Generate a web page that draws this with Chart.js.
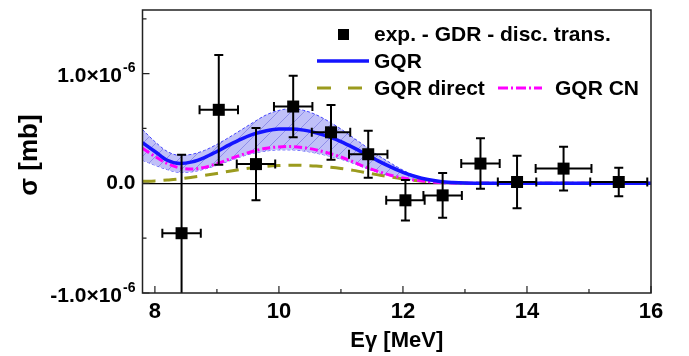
<!DOCTYPE html>
<html>
<head>
<meta charset="utf-8">
<script src="https://cdn.jsdelivr.net/npm/chart.js@4.4.0/dist/chart.umd.min.js"></script>
<style>
html, body { margin: 0; padding: 0; background: #fff; }
#wrap { width: 689px; height: 356px; }
</style>
</head>
<body>
<div id="wrap"><canvas id="sigmaChart"></canvas></div>
<script>
const UNIT = 1e-6;
const FONT = "'Liberation Sans', Arial, sans-serif";

// experimental points: E [MeV], sigma [1e-6 mb]
const expE      = [8.43, 9.03, 9.63, 10.23, 10.84, 11.44, 12.04, 12.64, 13.25, 13.84, 14.59, 15.48];
const expSig    = [-0.455, 0.67, 0.175, 0.70, 0.465, 0.265, -0.155, -0.11, 0.18, 0.012, 0.134, 0.012];
const expSigErr = [0.715, 0.50, 0.33, 0.28, 0.25, 0.215, 0.185, 0.205, 0.23, 0.24, 0.20, 0.13];
const expEErr   = [0.31, 0.31, 0.31, 0.31, 0.31, 0.31, 0.31, 0.31, 0.31, 0.31, 0.45, 0.46];

// model curves
const curveE    = [7.8, 8.0, 8.2, 8.4, 8.6, 8.8, 9.0, 9.2, 9.4, 9.6, 9.8, 10.0, 10.2, 10.4, 10.6, 10.8,
                   11.0, 11.2, 11.4, 11.6, 11.8, 12.0, 12.2, 12.4, 12.6, 12.8, 13.0, 13.4, 14, 15, 16];
const gqr       = [0.37, 0.29, 0.21, 0.18, 0.195, 0.235, 0.29, 0.35, 0.405, 0.45, 0.48, 0.495, 0.495, 0.485, 0.46, 0.425,
                   0.38, 0.325, 0.265, 0.205, 0.15, 0.10, 0.062, 0.034, 0.016, 0.007, 0.002, 0, 0, 0, 0];
const gqrUpper  = [0.49, 0.38, 0.29, 0.255, 0.265, 0.30, 0.355, 0.42, 0.49, 0.56, 0.625, 0.665, 0.68, 0.665, 0.625, 0.565,
                   0.495, 0.415, 0.335, 0.255, 0.185, 0.12, 0.068, 0.038, 0.02, 0.009, 0.003, 0, 0, 0, 0];
const gqrLower  = [0.21, 0.165, 0.125, 0.10, 0.105, 0.13, 0.165, 0.205, 0.245, 0.275, 0.295, 0.305, 0.305, 0.295, 0.275, 0.25,
                   0.22, 0.182, 0.138, 0.10, 0.068, 0.045, 0.027, 0.015, 0.007, 0.003, 0.001, 0, 0, 0, 0];
const gqrCN     = [0.32, 0.245, 0.18, 0.14, 0.13, 0.145, 0.18, 0.22, 0.26, 0.295, 0.32, 0.332, 0.335, 0.325, 0.305, 0.275,
                   0.24, 0.195, 0.148, 0.108, 0.074, 0.048, 0.029, 0.016, 0.008, 0.003, 0.001, 0, 0, 0, 0];
const gqrDirect = [0.018, 0.022, 0.03, 0.04, 0.055, 0.072, 0.09, 0.11, 0.128, 0.143, 0.155, 0.162, 0.165, 0.163, 0.158, 0.148,
                   0.135, 0.118, 0.098, 0.077, 0.057, 0.04, 0.026, 0.016, 0.009, 0.005, 0.002, 0, 0, 0, 0];

const xTicks = [8, 10, 12, 14, 16];
const xMinorTicks = [9, 11, 13, 15];
const yTicks = [-1, 0, 1];
const yMinorTicks = [-0.5, 0.5, 1.5];
const yTickText = ["-1.0\u00d710", "0.0", "1.0\u00d710"];
const yTickExp = ["-6", "", "-6"];

const pts = (xs, ys) => xs.map((x, i) => ({ x: x, y: ys[i] * UNIT }));

// hatched fill for the uncertainty band
const T = 13;
const tile = document.createElement("canvas");
tile.width = T; tile.height = T;
const tc = tile.getContext("2d");
tc.fillStyle = "#c0c0f8";
tc.fillRect(0, 0, T, T);
tc.strokeStyle = "#8e8ee8";
tc.lineWidth = 1;
tc.beginPath();
tc.moveTo(0, T); tc.lineTo(T, 0);
tc.moveTo(-1, 1); tc.lineTo(1, -1);
tc.moveTo(T - 1, T + 1); tc.lineTo(T + 1, T - 1);
tc.stroke();
const hatch = tc.createPattern(tile, "repeat");

const extras = {
    id: "extras",
    afterDatasetsDraw(chart) {
        const { ctx, chartArea: a, scales: { x, y } } = chart;
        ctx.save();
        ctx.beginPath();
        ctx.rect(a.left, a.top, a.right - a.left, a.bottom - a.top);
        ctx.clip();
        ctx.strokeStyle = "#000";
        ctx.lineWidth = 2;
        for (let i = 0; i < expE.length; i++) {
            const px = x.getPixelForValue(expE[i]);
            const py = y.getPixelForValue(expSig[i] * UNIT);
            const y1 = y.getPixelForValue((expSig[i] + expSigErr[i]) * UNIT);
            const y2 = y.getPixelForValue((expSig[i] - expSigErr[i]) * UNIT);
            const x1 = x.getPixelForValue(expE[i] - expEErr[i]);
            const x2 = x.getPixelForValue(expE[i] + expEErr[i]);
            ctx.beginPath();
            ctx.moveTo(px, y1); ctx.lineTo(px, y2);
            ctx.moveTo(px - 4.5, y1); ctx.lineTo(px + 4.5, y1);
            ctx.moveTo(px - 4.5, y2); ctx.lineTo(px + 4.5, y2);
            ctx.moveTo(x1, py); ctx.lineTo(x2, py);
            ctx.moveTo(x1, py - 4.5); ctx.lineTo(x1, py + 4.5);
            ctx.moveTo(x2, py - 4.5); ctx.lineTo(x2, py + 4.5);
            ctx.stroke();
            ctx.fillStyle = "#000";
            ctx.fillRect(px - 6, py - 6, 12, 12);
        }
        ctx.restore();
    },
    afterDraw(chart) {
        const { ctx, chartArea: a, scales: { x, y } } = chart;
        ctx.save();
        // frame
        ctx.strokeStyle = "#222";
        ctx.lineWidth = 1.5;
        ctx.strokeRect(a.left, a.top, a.right - a.left, a.bottom - a.top);
        // inward ticks
        ctx.lineWidth = 1.2;
        ctx.beginPath();
        xTicks.forEach(v => { const p = x.getPixelForValue(v); ctx.moveTo(p, a.bottom); ctx.lineTo(p, a.bottom - 7); });
        xMinorTicks.forEach(v => { const p = x.getPixelForValue(v); ctx.moveTo(p, a.bottom); ctx.lineTo(p, a.bottom - 4); });
        yTicks.forEach(v => { const p = y.getPixelForValue(v * UNIT); ctx.moveTo(a.left, p); ctx.lineTo(a.left + 7, p); });
        yMinorTicks.forEach(v => { const p = y.getPixelForValue(v * UNIT); ctx.moveTo(a.left, p); ctx.lineTo(a.left + 4, p); });
        ctx.stroke();

        // y tick labels with superscript exponent
        ctx.fillStyle = "#000";
        ctx.textBaseline = "middle";
        ctx.textAlign = "left";
        yTicks.forEach((v, i) => {
            const p = y.getPixelForValue(v * UNIT);
            const right = a.left - 7;
            ctx.font = "bold 14px " + FONT;
            const wE = yTickExp[i] ? ctx.measureText(yTickExp[i]).width : 0;
            ctx.font = "bold 21px " + FONT;
            const wM = ctx.measureText(yTickText[i]).width;
            if (yTickExp[i]) {
                ctx.fillText(yTickText[i], right - wE - wM - 1, p + 3);
                ctx.font = "bold 14px " + FONT;
                ctx.fillText(yTickExp[i], right - wE, p - 5);
            } else {
                ctx.fillText(yTickText[i], right - wM, p);
            }
        });

        // y title
        ctx.save();
        ctx.translate(30, 155);
        ctx.rotate(-Math.PI / 2);
        ctx.textAlign = "center";
        ctx.font = "bold 26px " + FONT;
        ctx.fillText("\u03c3 [mb]", 0, 0);
        ctx.restore();

        // legend
        ctx.font = "bold 21px " + FONT;
        ctx.textAlign = "left";
        ctx.fillRect(338, 29, 11, 11);
        ctx.fillText("exp. - GDR - disc. trans.", 374, 35);
        ctx.strokeStyle = "#1414ff";
        ctx.lineWidth = 3.5;
        ctx.beginPath(); ctx.moveTo(317, 61); ctx.lineTo(369, 61); ctx.stroke();
        ctx.fillText("GQR", 374, 62);
        ctx.strokeStyle = "#9b9b1e";
        ctx.lineWidth = 3;
        ctx.setLineDash([14, 17]);
        ctx.beginPath(); ctx.moveTo(317, 88); ctx.lineTo(364, 88); ctx.stroke();
        ctx.fillText("GQR direct", 374, 89);
        ctx.strokeStyle = "#ff00ff";
        ctx.setLineDash([10, 3, 2, 3]);
        ctx.beginPath(); ctx.moveTo(498, 88); ctx.lineTo(542, 88); ctx.stroke();
        ctx.setLineDash([]);
        ctx.fillText("GQR CN", 555, 89);
        ctx.restore();
    }
};

new Chart(document.getElementById("sigmaChart"), {
    type: "line",
    data: {
        datasets: [
            {
                label: "GQR",
                data: pts(curveE, gqr),
                borderColor: "#1414ff",
                borderWidth: 3.5,
                pointRadius: 0,
                cubicInterpolationMode: "monotone",
                fill: false
            },
            {
                label: "GQR CN",
                data: pts(curveE, gqrCN),
                borderColor: "#ff00ff",
                borderWidth: 3,
                borderDash: [8, 3, 2, 3],
                pointRadius: 0,
                cubicInterpolationMode: "monotone",
                fill: false
            },
            {
                label: "GQR direct",
                data: pts(curveE, gqrDirect),
                borderColor: "#9b9b1e",
                borderWidth: 3,
                borderDash: [13, 8],
                pointRadius: 0,
                cubicInterpolationMode: "monotone",
                fill: false
            },
            {
                label: "upper",
                data: pts(curveE, gqrUpper),
                borderColor: "#4646ff",
                borderWidth: 1,
                borderDash: [3, 2],
                pointRadius: 0,
                cubicInterpolationMode: "monotone",
                backgroundColor: hatch,
                fill: "+1"
            },
            {
                label: "lower",
                data: pts(curveE, gqrLower),
                borderColor: "#4646ff",
                borderWidth: 1,
                borderDash: [3, 2],
                pointRadius: 0,
                cubicInterpolationMode: "monotone",
                fill: false
            }
        ]
    },
    options: {
        responsive: true,
        maintainAspectRatio: false,
        animation: false,
        layout: { padding: { top: 10, right: 38, left: 0, bottom: 0 } },
        plugins: {
            legend: { display: false },
            tooltip: { enabled: false }
        },
        scales: {
            x: {
                type: "linear",
                min: 7.8,
                max: 16,
                afterBuildTicks: (s) => { s.ticks = xTicks.map(v => ({ value: v })); },
                afterFit: (s) => { s.height = 63; },
                grid: { display: false, drawTicks: false },
                border: { display: false },
                ticks: {
                    padding: 6,
                    color: "#000",
                    maxRotation: 0,
                    font: { family: FONT, weight: "bold", size: 22 }
                },
                title: {
                    display: true,
                    text: "E\u03b3 [MeV]",
                    color: "#000",
                    padding: { top: 0, bottom: 2 },
                    font: { family: FONT, weight: "bold", size: 22 }
                }
            },
            y: {
                type: "linear",
                min: -1 * UNIT,
                max: 1.58 * UNIT,
                afterBuildTicks: (s) => { s.ticks = yTicks.map(v => ({ value: v * UNIT })); },
                afterFit: (s) => { s.width = 142.5; },
                grid: {
                    drawTicks: false,
                    lineWidth: 1.3,
                    color: (c) => (c.tick && c.tick.value === 0 ? "#000" : "rgba(0,0,0,0)")
                },
                border: { display: false },
                ticks: { display: false }
            }
        }
    },
    plugins: [extras]
});
</script>
</body>
</html>
